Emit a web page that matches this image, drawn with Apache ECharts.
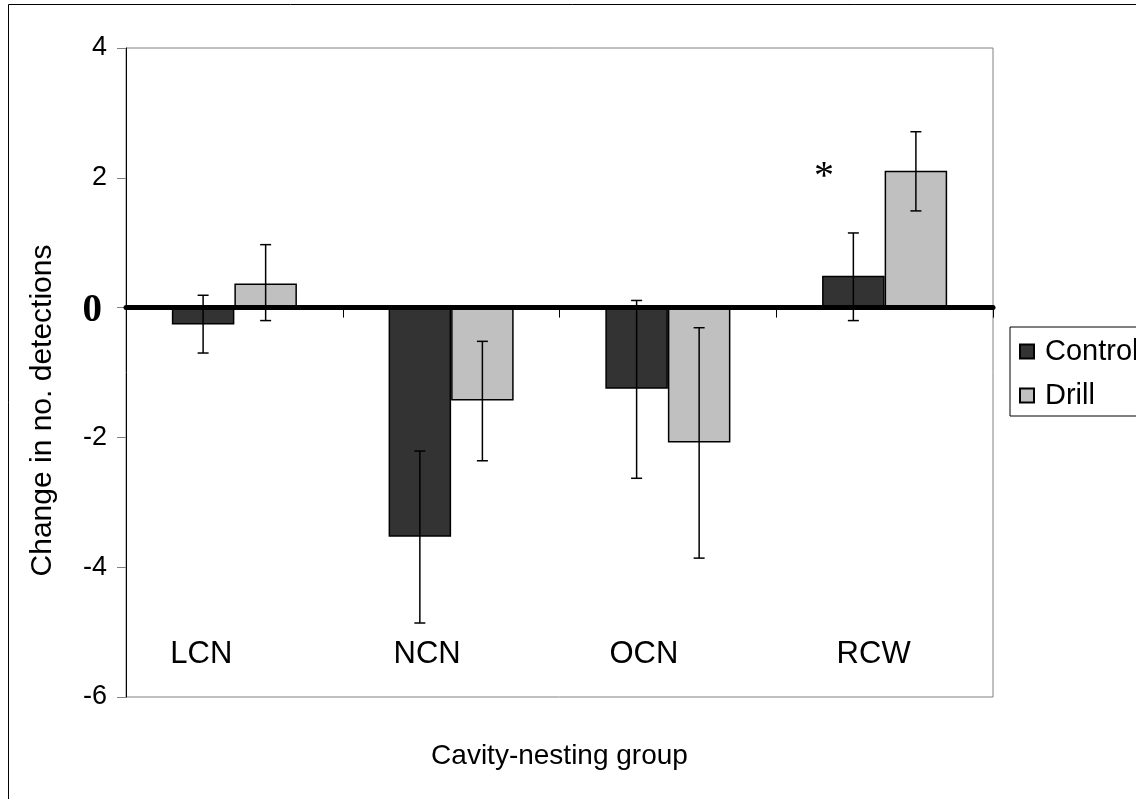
<!DOCTYPE html>
<html>
<head>
<meta charset="utf-8">
<script src="https://cdn.jsdelivr.net/npm/echarts@6/dist/echarts.min.js"></script>
<style>html,body{margin:0;padding:0;background:#fff}#c{width:1136px;height:799px}</style>
</head>
<body>
<div id="c"></div>
<script>
// ---- data ----
const categories = ['LCN', 'NCN', 'OCN', 'RCW'];
const seriesNames = ['Control', 'Drill'];
const controlMean = [-0.26, -3.53, -1.25, 0.49];
const drillMean = [0.37, -1.43, -2.08, 2.11];
const controlLow = [-0.70, -4.86, -2.63, -0.20];
const controlHigh = [0.19, -2.21, 0.11, 1.15];
const drillLow = [-0.20, -2.36, -3.86, 1.49];
const drillHigh = [0.97, -0.52, -0.31, 2.71];
const yTicks = { min: -6, max: 4, interval: 2 };
const annotation = { text: '*', category: 'RCW', value: 2.0 };

const FONT = "'Liberation Sans', Arial, sans-serif";
const SERIF = "'Liberation Serif', 'Times New Roman', serif";
const chart = echarts.init(document.getElementById('c'), null, { renderer: 'canvas' });

const BAR_FRAC = 0.2885; // each bar's share of the category band
function errSeries(name, low, high, side) {
  return {
    type: 'custom',
    name: name + ' err',
    z: 5,
    silent: true,
    data: categories.map((c, i) => [i, low[i], high[i]]),
    encode: { x: 0, y: [1, 2] },
    renderItem: function (params, api) {
      const band = api.size([1, 0])[0];
      const c = api.coord([api.value(0), 0]);
      const x = c[0] + side * band * BAR_FRAC / 2;
      const yLo = api.coord([api.value(0), api.value(1)])[1];
      const yHi = api.coord([api.value(0), api.value(2)])[1];
      const hw = 5.5;
      const st = { stroke: '#000', lineWidth: 1.5 };
      return {
        type: 'group',
        children: [
          { type: 'line', shape: { x1: x, y1: yLo, x2: x, y2: yHi }, style: st },
          { type: 'line', shape: { x1: x - hw, y1: yLo, x2: x + hw, y2: yLo }, style: st },
          { type: 'line', shape: { x1: x - hw, y1: yHi, x2: x + hw, y2: yHi }, style: st }
        ]
      };
    }
  };
}

const labelShift = [66, 48, 48, 22]; // px of right padding to mimic label placement
const rich = {};
labelShift.forEach((p, i) => { rich['c' + i] = { fontSize: 31, fontFamily: FONT, color: '#000', padding: [0, p, 0, 0] }; });

const option = {
  backgroundColor: '#fff',
  animation: false,
  textStyle: { fontFamily: FONT },
  grid: { left: 126, top: 48, right: 143, bottom: 102, show: true, borderColor: '#808080', borderWidth: 1, backgroundColor: '#fff' },
  legend: {
    orient: 'vertical',
    left: 1010,
    top: 327,
    data: seriesNames,
    icon: 'rect',
    itemWidth: 14,
    itemHeight: 14,
    itemGap: 15,
    padding: [10, 60, 6, 9],
    borderColor: '#000',
    borderWidth: 1,
    backgroundColor: '#fff',
    textStyle: { fontSize: 29, color: '#000', fontFamily: FONT, padding: [0, 0, 0, 6] }
  },
  xAxis: [
    {
      type: 'category',
      data: categories,
      z: 10,
      axisLine: { onZero: true, lineStyle: { color: '#000', width: 5 } },
      axisTick: { show: true, length: 10, lineStyle: { color: '#000', width: 1 } },
      axisLabel: { show: false },
      splitLine: { show: false }
    },
    {
      type: 'category',
      data: categories,
      position: 'bottom',
      axisLine: { show: false, onZero: false },
      axisTick: { show: false },
      axisLabel: {
        show: true,
        inside: true,
        margin: 27,
        formatter: function (v, i) { return '{c' + i + '|' + v + '}'; },
        rich: rich
      },
      name: 'Cavity-nesting group',
      nameLocation: 'middle',
      nameGap: 45,
      nameTextStyle: { fontSize: 28, color: '#000', fontFamily: FONT }
    }
  ],
  yAxis: {
    type: 'value',
    min: yTicks.min,
    max: yTicks.max,
    interval: yTicks.interval,
    name: 'Change in no. detections',
    nameLocation: 'middle',
    nameGap: 68,
    nameTextStyle: { fontSize: 30, color: '#000', fontFamily: FONT, padding: [0, 76, 0, 0] },
    axisLine: { show: true, lineStyle: { color: '#000', width: 1 } },
    axisTick: { show: true, length: 9, lineStyle: { color: '#808080' } },
    splitLine: { show: false },
    axisLabel: {
      fontSize: 27,
      color: '#000',
      margin: 19,
      fontFamily: FONT,
      formatter: function (v) { return v === 0 ? '{z|0}' : String(v); },
      rich: { z: { fontFamily: SERIF, fontWeight: 'bold', fontSize: 39, color: '#000', padding: [6, 5, 0, 0] } }
    }
  },
  series: [
    {
      type: 'bar', name: seriesNames[0], data: controlMean, xAxisIndex: 0,
      barGap: '0%', barCategoryGap: '42.3%',
      itemStyle: { color: '#333333', borderColor: '#000', borderWidth: 1.5 }
    },
    {
      type: 'bar', name: seriesNames[1], data: drillMean, xAxisIndex: 0,
      barGap: '0%', barCategoryGap: '42.3%',
      itemStyle: { color: '#c0c0c0', borderColor: '#000', borderWidth: 1.5 }
    },
    errSeries(seriesNames[0], controlLow, controlHigh, -1),
    errSeries(seriesNames[1], drillLow, drillHigh, 1)
  ]
};
chart.setOption(option);

// annotation asterisk and outer frame
const p = chart.convertToPixel({ xAxisIndex: 0, yAxisIndex: 0 }, [annotation.category, annotation.value]);
const band = chart.convertToPixel({ xAxisIndex: 0 }, categories[1]) - chart.convertToPixel({ xAxisIndex: 0 }, categories[0]);
chart.setOption({
  graphic: [
    { type: 'rect', shape: { x: 8.5, y: 4.5, width: 1140, height: 810 }, style: { fill: 'none', stroke: '#000', lineWidth: 1 }, z: 100, silent: true },
    { type: 'text', x: p[0] - band * 0.28, y: p[1], style: { text: annotation.text, fontSize: 40, fontFamily: SERIF, fill: '#000', align: 'center', verticalAlign: 'middle' }, z: 100 }
  ]
});
</script>
</body>
</html>
